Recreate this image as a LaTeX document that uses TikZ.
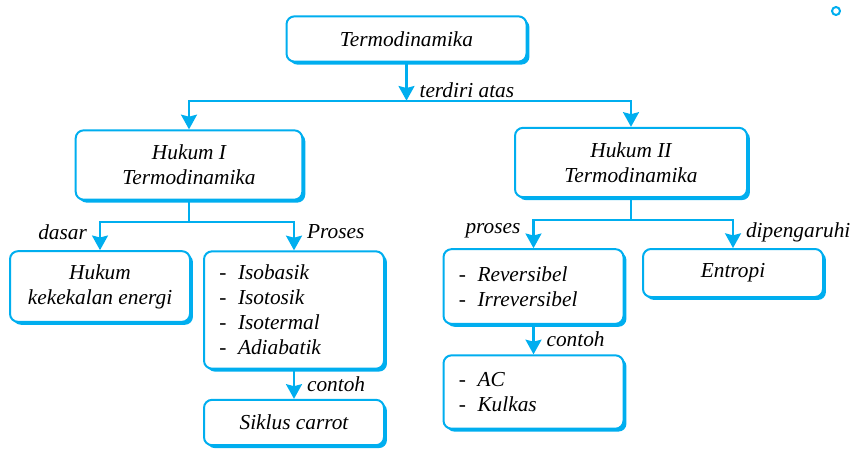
\documentclass[tikz,border=0pt]{standalone}
\usepackage{fontspec}
\setmainfont{Liberation Serif}
\usetikzlibrary{positioning,shadows,arrows.meta}
\definecolor{Biru}{HTML}{00AEEF}
\newcommand{\Butir}[1]{\makebox[14pt][l]{\upshape -}#1}

\begin{document}
\begin{tikzpicture}[
        x=0.75pt,y=-0.75pt,
        BoxCfg/.style={
            draw=Biru,
            line width=1.5pt,
            fill=white,
            rounded corners=6pt,
            align=center,
            inner sep=0pt,
            font=\fontsize{16}{18.75}\selectfont\itshape,
            drop shadow={shadow xshift=2.2pt,shadow yshift=-2.2pt,fill=Biru,opacity=1}
        },
        ListCfg/.style={
            BoxCfg,
            align=left,
            text width=112pt,
            inner xsep=11.5pt
        },
        LineCfg/.style={draw=Biru,line width=1.6pt},
        ArrCfg/.style={LineCfg,-{Stealth[width=12pt,length=11pt,inset=1.5pt]}},
        LabelCfg/.style={font=\fontsize{16}{18.75}\selectfont\itshape,inner xsep=9pt,inner ysep=2pt}
    ]
    \useasboundingbox (0,0) rectangle (863,457);
    
    % Termodinamika
    \node[BoxCfg,minimum width=180pt,minimum height=34pt] (termo) at (406.5,39) {Termodinamika};
    
    % Hukum I dan Hukum II
    \node[BoxCfg,minimum width=170pt,minimum height=52pt] (hk1) at (189,165) {Hukum I\\Termodinamika};
    \node[BoxCfg,minimum width=174pt,minimum height=52pt] (hk2) at (631,162.5) {Hukum II\\Termodinamika};
    
    % cabang Hukum I
    \node[BoxCfg,minimum width=135pt,minimum height=53pt] (kekal) at (100,286.5) {Hukum\\kekekalan energi};
    \node[ListCfg,minimum height=88pt] (proses1) at (294,310) {\Butir{Isobasik}\\\Butir{Isotosik}\\\Butir{Isotermal}\\\Butir{Adiabatik}};
    \node[BoxCfg,minimum width=135pt,minimum height=34pt] (siklus) at (294,422.5) {Siklus carrot};
    
    % cabang Hukum II
    \node[ListCfg,minimum height=56pt] (proses2) at (533.5,286.5) {\Butir{Reversibel}\\\Butir{Irreversibel}};
    \node[BoxCfg,minimum width=135pt,minimum height=36pt] (entropi) at (733,273) {Entropi};
    \node[ListCfg,minimum height=55pt] (contoh2) at (533.5,392) {\Butir{AC}\\\Butir{Kulkas}};
    
    % penghubung
    \path (termo.south) ++(0,38) coordinate (Bus);
    \draw[ArrCfg] (termo.south) -- (Bus) node[LabelCfg,right,pos=0.72]{terdiri atas};
    \draw[ArrCfg] (Bus) -| (hk1.north);
    \draw[ArrCfg] (Bus) -| (hk2.north);
    
    \path (hk1.south) ++(0,21) coordinate (Cab1);
    \draw[LineCfg] (hk1.south) -- (Cab1);
    \draw[ArrCfg] (Cab1) -| (kekal.north) node[LabelCfg,left,pos=0.68]{dasar};
    \draw[ArrCfg] (Cab1) -| (proses1.north) node[LabelCfg,right,pos=0.68]{Proses};
    \draw[ArrCfg] (proses1.south) -- (siklus.north) node[LabelCfg,right,midway]{contoh};
    
    \path (hk2.south) ++(0,22) coordinate (Cab2);
    \draw[LineCfg] (hk2.south) -- (Cab2);
    \draw[ArrCfg] (Cab2) -| (proses2.north) node[LabelCfg,left,pos=0.68]{proses};
    \draw[ArrCfg] (Cab2) -| (entropi.north) node[LabelCfg,right,pos=0.72]{dipengaruhi};
    \draw[ArrCfg] (proses2.south) -- (contoh2.north) node[LabelCfg,right,midway]{contoh};
    
    % tanda kecil
    \draw[Biru,line width=1.5pt] (836,11) circle (3pt);
    
\end{tikzpicture}
\end{document}
